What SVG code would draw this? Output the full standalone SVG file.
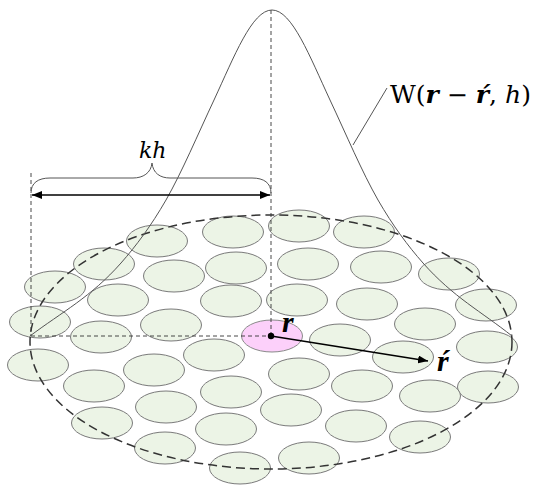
<svg xmlns="http://www.w3.org/2000/svg" width="535" height="487" viewBox="0 0 535 487">
<defs>
<style>
.p{fill:#ecf4e6;stroke:#7a7a7a;stroke-width:1}
.c{fill:#fcd0fa;stroke:#8a8a8a;stroke-width:1}
.thin{fill:none;stroke:#333;stroke-width:0.9;stroke-dasharray:4 3}
.big{fill:none;stroke:#333;stroke-width:1.5;stroke-dasharray:9 5}
.curve{fill:none;stroke:#555;stroke-width:1}
.t{font-family:"Liberation Serif","DejaVu Serif",serif;fill:#000}
.d{font-family:"DejaVu Serif","Liberation Serif",serif;fill:#000}
</style>
<marker id="ah" viewBox="0 0 10 8" refX="10" refY="4" markerWidth="10" markerHeight="8" markerUnits="userSpaceOnUse" orient="auto-start-reverse">
<path d="M0,0 L10,4 L0,8 Z" fill="#000"/>
</marker>
</defs>
<rect width="535" height="487" fill="#fff"/>
<g id="particles">
<ellipse class="p" cx="157" cy="241" rx="30.5" ry="16"/>
<ellipse class="p" cx="233" cy="232" rx="30.5" ry="16"/>
<ellipse class="p" cx="104" cy="264" rx="30.5" ry="16"/>
<ellipse class="p" cx="174" cy="276" rx="30.5" ry="16"/>
<ellipse class="p" cx="236" cy="268" rx="30.5" ry="16"/>
<ellipse class="p" cx="55" cy="287" rx="30.5" ry="16"/>
<ellipse class="p" cx="118" cy="300" rx="30.5" ry="16"/>
<ellipse class="p" cx="231" cy="301" rx="30.5" ry="16"/>
<ellipse class="p" cx="40" cy="322" rx="30.5" ry="16"/>
<ellipse class="p" cx="101" cy="337" rx="30.5" ry="16"/>
<ellipse class="p" cx="171" cy="325" rx="30.5" ry="16"/>
<ellipse class="p" cx="38" cy="365" rx="30.5" ry="16"/>
<ellipse class="p" cx="214" cy="355" rx="30.5" ry="16"/>
<ellipse class="p" cx="154" cy="370" rx="30.5" ry="16"/>
<ellipse class="p" cx="94" cy="386" rx="30.5" ry="16"/>
<ellipse class="p" cx="231" cy="392" rx="30.5" ry="16"/>
<ellipse class="p" cx="166" cy="407" rx="30.5" ry="16"/>
<ellipse class="p" cx="102" cy="423" rx="30.5" ry="16"/>
<ellipse class="p" cx="226" cy="429" rx="30.5" ry="16"/>
<ellipse class="p" cx="165" cy="448" rx="30.5" ry="16"/>
<ellipse class="p" cx="240" cy="468" rx="30.5" ry="16"/>
<ellipse class="p" cx="299" cy="226" rx="30.5" ry="16"/>
<ellipse class="p" cx="364" cy="232" rx="30.5" ry="16"/>
<ellipse class="p" cx="308" cy="264" rx="30.5" ry="16"/>
<ellipse class="p" cx="381" cy="267" rx="30.5" ry="16"/>
<ellipse class="p" cx="449" cy="274" rx="30.5" ry="16"/>
<ellipse class="p" cx="297" cy="300" rx="30.5" ry="16"/>
<ellipse class="p" cx="367" cy="304" rx="30.5" ry="16"/>
<ellipse class="p" cx="486" cy="305" rx="30.5" ry="16"/>
<ellipse class="p" cx="425" cy="324" rx="30.5" ry="16"/>
<ellipse class="p" cx="340" cy="340" rx="30.5" ry="16"/>
<ellipse class="p" cx="487" cy="347" rx="30.5" ry="16"/>
<ellipse class="p" cx="403" cy="357" rx="30.5" ry="16"/>
<ellipse class="p" cx="299" cy="374" rx="30.5" ry="16"/>
<ellipse class="p" cx="362" cy="386" rx="30.5" ry="16"/>
<ellipse class="p" cx="488" cy="387" rx="30.5" ry="16"/>
<ellipse class="p" cx="430" cy="396" rx="30.5" ry="16"/>
<ellipse class="p" cx="291" cy="410" rx="30.5" ry="16"/>
<ellipse class="p" cx="356" cy="426" rx="30.5" ry="16"/>
<ellipse class="p" cx="420" cy="437" rx="30.5" ry="16"/>
<ellipse class="p" cx="309" cy="458" rx="30.5" ry="16"/>
</g>
<g id="center-particle">
<ellipse class="c" cx="272" cy="336" rx="30.5" ry="16"/>
</g>
<g id="connectors">
<ellipse class="big" cx="271" cy="342" rx="241" ry="127"/>
<line class="thin" x1="271" y1="10" x2="271" y2="336"/>
<line class="thin" x1="31" y1="173" x2="31" y2="336"/>
<line class="thin" x1="31" y1="336" x2="271" y2="336"/>
<path class="curve" d="M30,336 C62,312 91,297 121,263 C136,246 151,226 166,200 C182,172 198,134 214,100 C234,57 252,10 272,10 C292,10 310,57 330,100 C346,134 362,172 378,200 C393,226 408,246 423,263 C453,297 482,312 512,336"/>
<path class="curve" d="M31,193 C31,183 38,178 50,178 L133,178 C143,178 151,173 152,163 C153,173 160,178 170,178 L252,178 C264,178 271,183 271,193"/>
<line x1="32" y1="195" x2="270" y2="195" stroke="#000" stroke-width="1.3" marker-start="url(#ah)" marker-end="url(#ah)"/>
<line x1="387" y1="88" x2="353" y2="145" stroke="#555" stroke-width="1"/>
<line x1="271" y1="336" x2="428" y2="361" stroke="#000" stroke-width="1.5" marker-end="url(#ah)"/>
<circle cx="271" cy="336" r="3.2" fill="#000"/>
</g>
<g id="labels">
<text class="d" x="139" y="158" font-size="22" font-style="italic">kh</text>
<text class="d" x="390" y="103" font-size="24" textLength="141" lengthAdjust="spacingAndGlyphs">W(<tspan font-weight="bold" font-style="italic">r</tspan> − <tspan font-weight="bold" font-style="italic">ŕ</tspan>, <tspan font-style="italic">h</tspan>)</text>
<text class="t" x="282" y="332" font-size="30" font-weight="bold" font-style="italic">r</text>
<text class="t" x="437" y="371" font-size="30" font-weight="bold" font-style="italic">ŕ</text>
</g>
</svg>
